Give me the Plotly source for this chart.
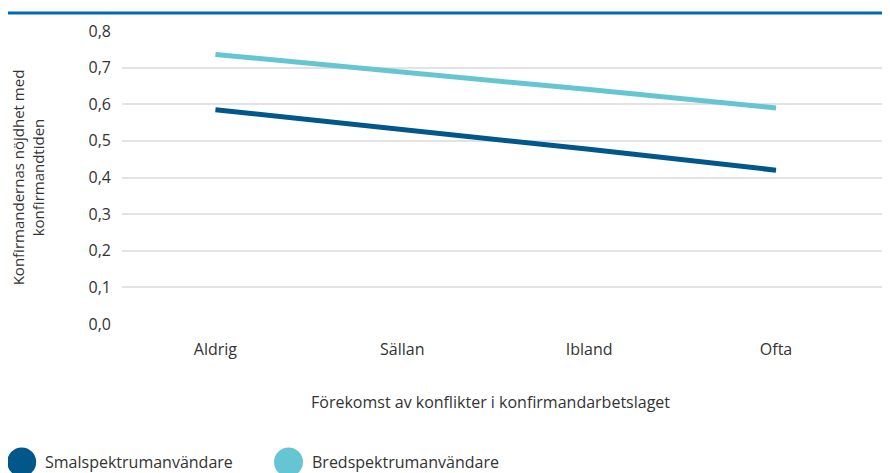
import plotly.graph_objects as go

categories = ["Aldrig", "Sällan", "Ibland", "Ofta"]
smal_values = [0.585, 0.532, 0.477, 0.420]
bred_values = [0.736, 0.689, 0.640, 0.590]
y_ticks = [0.0, 0.1, 0.2, 0.3, 0.4, 0.5, 0.6, 0.7, 0.8]
series_names = ["Smalspektrumanvändare", "Bredspektrumanvändare"]

SMAL_COLOR = "#00578a"
BRED_COLOR = "#66c5d3"
COLORS = [SMAL_COLOR, BRED_COLOR]
TEXT = "#333333"
FONT = "Open Sans"

# figure geometry (page has an 8px body margin)
W, H = 882, 465
ML, MR, MT, MB = 114, 0, 23, 149
PW, PH = W - ML - MR, H - MT - MB


def px_to_paper_x(px):
    return (px - ML) / PW


def px_to_paper_y(py):
    return (H - MB - py) / PH


fig = go.Figure()
for nm, vals, col in zip(series_names, [smal_values, bred_values], COLORS):
    fig.add_trace(go.Scatter(x=categories, y=vals, mode="lines",
                             line=dict(color=col, width=5),
                             showlegend=False, name=nm))

# custom legend with large circles
shapes = [dict(type="line", xref="paper", yref="paper",
               x0=px_to_paper_x(-20), x1=px_to_paper_x(W + 20),
               y0=px_to_paper_y(5), y1=px_to_paper_y(5),
               line=dict(color="#0069b4", width=3))]
annotations = [dict(text="Förekomst av konflikter i konfirmandarbetslaget",
                    x=px_to_paper_x(482), xref="paper",
                    y=px_to_paper_y(394), yref="paper",
                    showarrow=False, font=dict(size=16, color=TEXT),
                    xanchor="center", yanchor="middle")]
legend_x = [13.7, 280.5]
legend_y = 454
r = 14.5
for nm, col, cx in zip(series_names, COLORS, legend_x):
    shapes.append(dict(type="circle", xref="paper", yref="paper",
                       x0=px_to_paper_x(cx - r), x1=px_to_paper_x(cx + r),
                       y0=px_to_paper_y(legend_y + r), y1=px_to_paper_y(legend_y - r),
                       fillcolor=col, line=dict(width=0)))
    annotations.append(dict(text=nm, x=px_to_paper_x(cx + 21), xref="paper",
                            y=px_to_paper_y(legend_y), yref="paper",
                            showarrow=False, xanchor="left", yanchor="middle",
                            font=dict(size=16, color=TEXT)))

fig.update_layout(
    width=W, height=H,
    margin=dict(l=ML, r=MR, t=MT, b=MB, autoexpand=False),
    paper_bgcolor="white", plot_bgcolor="white",
    separators=", ",
    showlegend=False,
    font=dict(family=FONT, size=16, color=TEXT),
    xaxis=dict(range=[-0.5, 3.61], showgrid=False, zeroline=False,
               showline=False, ticks="", tickfont=dict(size=16, color=TEXT),
               type="category", automargin=False, ticklabelstandoff=14),
    yaxis=dict(range=[0, 0.8], tickvals=y_ticks, tickformat=".1f",
               showgrid=True, gridcolor="#e3e3e3", gridwidth=1.5,
               zeroline=False, showline=False, ticks="", automargin=False,
               tickfont=dict(size=16, color=TEXT), ticklabelstandoff=10,
               title=dict(text="Konfirmandernas nöjdhet med<br>konfirmandtiden",
                          font=dict(size=15, color=TEXT), standoff=44)),
    annotations=annotations,
    shapes=shapes,
)

fig.write_html("out.html")
